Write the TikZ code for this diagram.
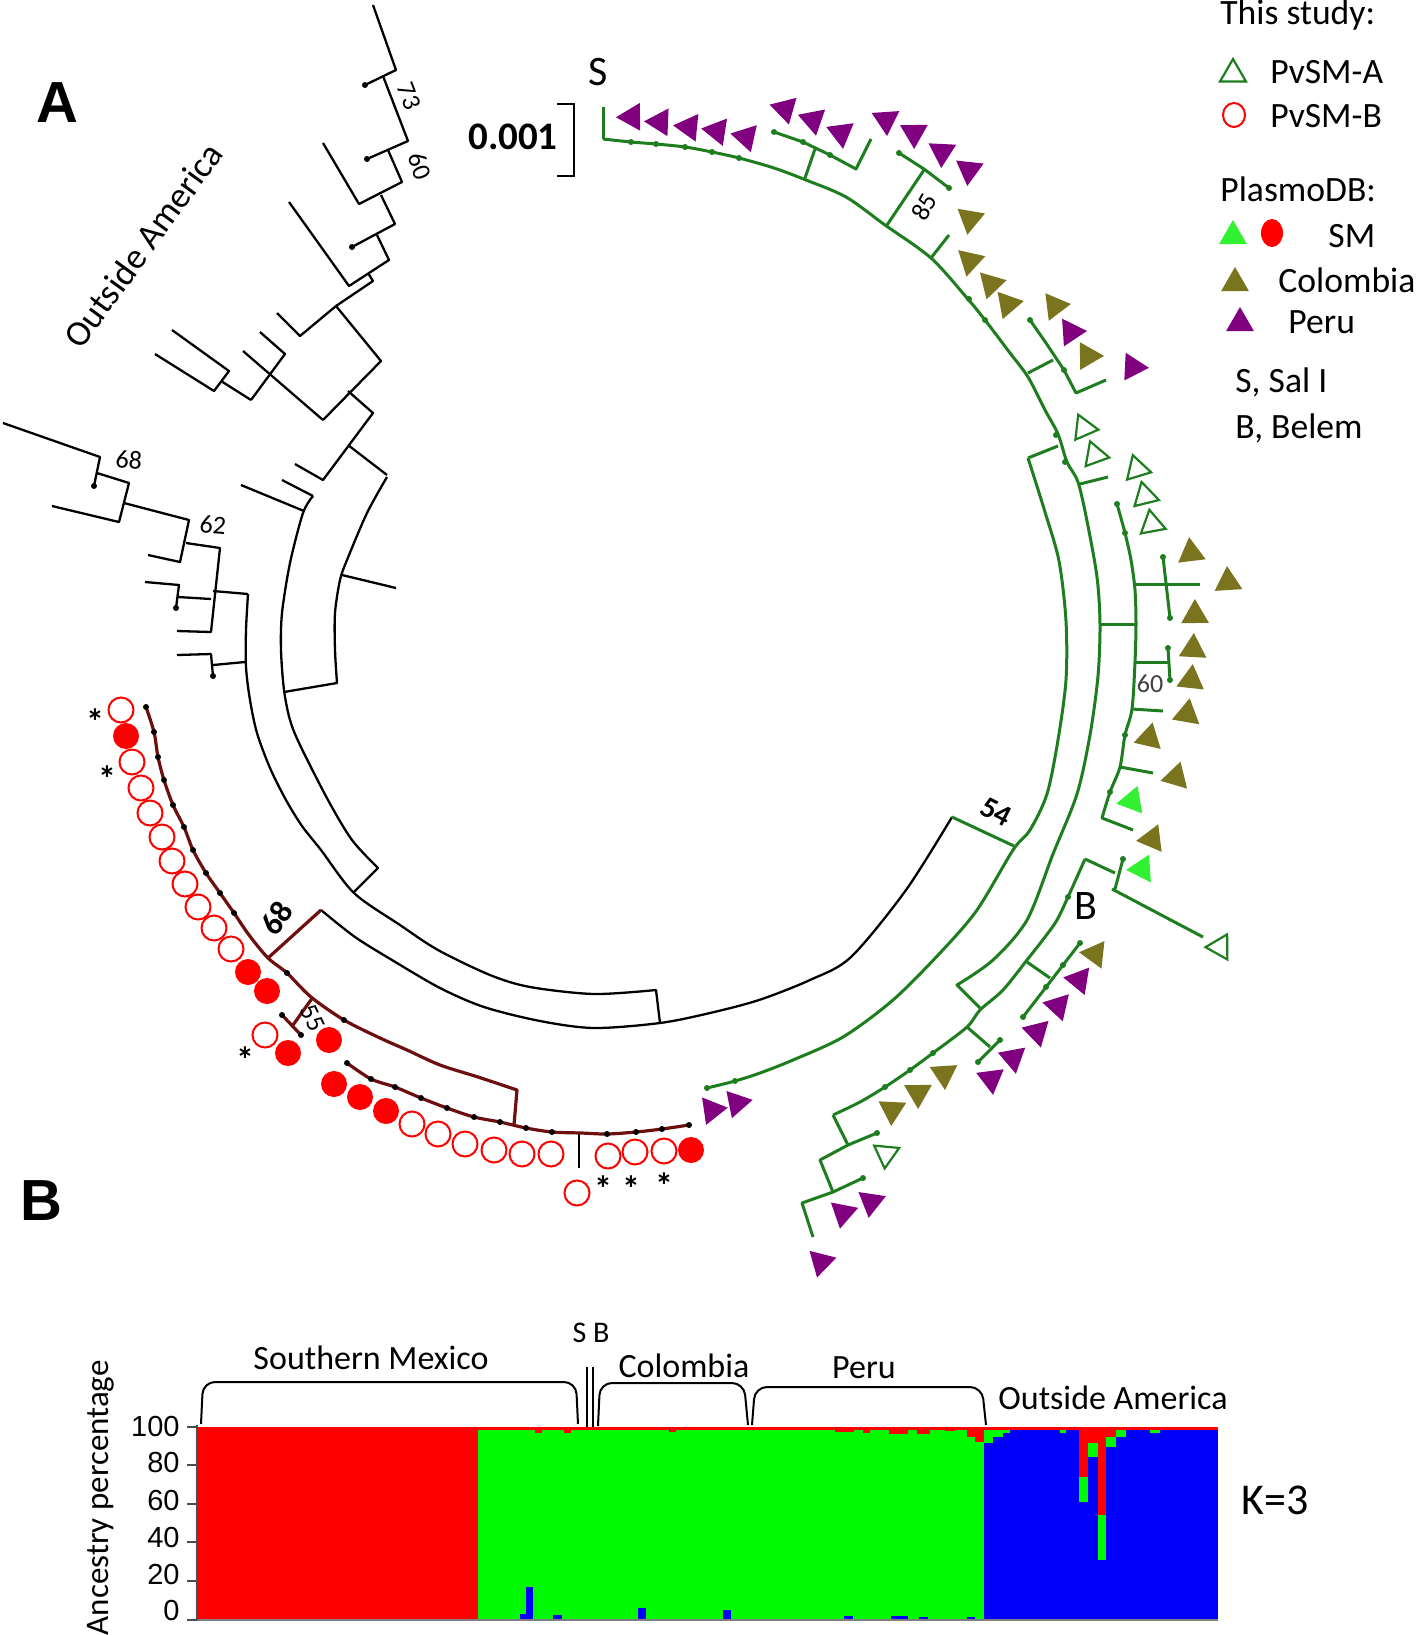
\documentclass[tikz,border=0pt]{standalone}
\usepackage{fontspec}
\setmainfont{Carlito}
\newfontfamily\arialf{Liberation Sans}
\usetikzlibrary{shapes.geometric}
\definecolor{tg}{RGB}{30,125,30}
\definecolor{mr}{RGB}{110,15,15}
\definecolor{pu}{RGB}{128,0,128}
\definecolor{ol}{RGB}{122,116,30}
\definecolor{lg}{RGB}{50,240,50}
\definecolor{bred}{RGB}{255,0,0}
\definecolor{bgreen}{RGB}{0,250,0}
\definecolor{bblue}{RGB}{0,0,250}
\tikzset{
 blk/.style={line width=1.15pt, black, line join=round},
 grn/.style={line width=1.5pt, tg, line join=round},
 mar/.style={line width=1.6pt, mr, line join=round},
 trishape/.style={regular polygon, regular polygon sides=3, minimum size=16pt, inner sep=0pt, outer sep=0pt},
 pur/.style={trishape, fill=pu},
 oli/.style={trishape, fill=ol},
 lgt/.style={trishape, fill=lg},
 opn/.style={trishape, draw=tg, line width=1.1pt, minimum size=14.5pt},
 leg/.style={font=\fontsize{17.8}{20}\selectfont, anchor=base west, inner sep=0pt},
 bs/.style={font=\fontsize{13}{14}\selectfont, inner sep=0pt},
 grp/.style={font=\fontsize{17}{19}\selectfont, inner sep=0pt},
 ax/.style={font=\arialf\fontsize{14.5}{15}\selectfont, anchor=east, inner sep=0pt},
 ast/.style={font=\bfseries\fontsize{18}{18}\selectfont, inner sep=0pt},
 rc/.style={red, line width=1pt},
}
\newcommand\mytri[4]{\pgfmathsetmacro\triang{atan2(620-(#3),(#2)-640)}\node[#4,rotate=\triang] (#1) at (#2,#3) {};}
\newcommand\dotsat[2]{\foreach \pp in {#2} {\fill[#1] \pp circle[radius=1.5pt];}}
\begin{document}
\begin{tikzpicture}[x=0.5pt,y=-0.5pt]
\useasboundingbox (0,0) rectangle (1417,1635);
\fill[white] (0,0) rectangle (1417,1635);

% ---------------- panel B bar chart ----------------
\fill[bred] (198,1427) rectangle (478,1620);
\fill[bgreen] (478,1427) rectangle (984,1620);
\fill[bblue] (984,1427) rectangle (1218,1620);
\fill[bred] (478,1427) rectangle (1218,1430);
\foreach \a/\b/\c in {535/542/1433,564/571/1433,669/676/1432,835/854/1432,863/870/1433,889/908/1434,917/930/1434,945/955/1431,967/975/1437,975/984/1442}
  \fill[bred] (\a,1427) rectangle (\b,\c);
\fill[bgreen] (984,1430) rectangle (993,1443);
\fill[bgreen] (993,1430) rectangle (1003,1437);
\fill[bgreen] (1003,1430) rectangle (1010,1433);
\fill[bgreen] (1060,1430) rectangle (1066,1433);
\fill[bred] (1079,1427) rectangle (1088,1477);
\fill[bgreen] (1079,1477) rectangle (1088,1502);
\fill[bred] (1088,1427) rectangle (1098,1443);
\fill[bgreen] (1088,1443) rectangle (1098,1457);
\fill[bred] (1098,1427) rectangle (1106,1515);
\fill[bgreen] (1098,1515) rectangle (1106,1560);
\fill[bred] (1106,1427) rectangle (1116,1437);
\fill[bgreen] (1106,1437) rectangle (1116,1447);
\fill[bgreen] (1116,1430) rectangle (1126,1437);
\fill[bgreen] (1150,1430) rectangle (1160,1433);
\foreach \a/\b/\c in {526/533/1587,520/526/1614,553/562/1615,638/646/1608,723/731/1610,844/853/1616,891/908/1616,919/928/1617,967/975/1617}
  \fill[bblue] (\a,\c) rectangle (\b,1620);
\draw[gray, line width=0.8pt] (190,1620) -- (1218,1620);
\draw[black!70, line width=0.8pt] (197,1425) -- (197,1620);
\foreach \yy in {1427,1465,1504,1542,1581,1620} \draw[black!70, line width=0.8pt] (187,\yy) -- (197,\yy);
\node[ax] (y100) at (180,1426) {100};
\node[ax] (y80) at (180,1462) {80};
\node[ax] (y60) at (180,1500) {60};
\node[ax] (y40) at (180,1537) {40};
\node[ax] (y20) at (180,1574) {20};
\node[ax] (y0) at (180,1610) {0};
\node[font=\fontsize{16.5}{17}\selectfont, rotate=90, anchor=east, inner sep=0pt] (ancy) at (101,1360) {Ancestry percentage};
\draw[line width=1pt, rounded corners=6pt] (201,1424) -- (203,1382) -- (576,1382) -- (578,1424);
\draw[line width=1pt] (587,1367) -- (587,1427);
\draw[line width=1pt] (593,1367) -- (593,1427);
\draw[line width=1pt, rounded corners=6pt] (598,1426) -- (600,1383) -- (744,1383) -- (748,1425);
\draw[line width=1pt, rounded corners=6pt] (752,1425) -- (755,1387) -- (982,1387) -- (986,1425);
\node[grp] (gsm) at (371,1358) {Southern Mexico};
\node[font=\fontsize{15}{16}\selectfont, inner sep=0pt] (gsb) at (591,1333) {S B};
\node[grp] (gcol) at (684,1366) {Colombia};
\node[grp] (gper) at (864,1368) {Peru};
\node[grp] (goa) at (1113,1398) {Outside America};
\node[font=\fontsize{22}{24}\selectfont, inner sep=0pt] (k3) at (1275,1500) {K=3};

% ---------------- labels ----------------
\node[font=\arialf\bfseries\fontsize{29}{30}\selectfont, inner sep=0pt] (lblA) at (57,103) {A};
\node[font=\arialf\bfseries\fontsize{29}{30}\selectfont, inner sep=0pt] (lblB) at (41,1201) {B};
\node[font=\fontsize{18}{20}\selectfont, rotate=54, inner sep=0pt] (outam) at (143,245) {Outside America};
\node[font=\bfseries\fontsize{19.5}{22}\selectfont, inner sep=0pt] (scl) at (513,137) {0.001};
\draw[line width=1pt] (557,104) -- (574,104) -- (574,176) -- (557,176);
\node[font=\fontsize{21}{22}\selectfont, inner sep=0pt] (labS) at (598,72) {S};
\node[font=\fontsize{21}{22}\selectfont, inner sep=0pt] (labB) at (1086,906) {B};

% ---------------- legend ----------------
\node[leg] (l1) at (1220,24) {This study:};
\node[opn, minimum size=15pt] (lopen) at (1233,74) {};
\node[leg] (l2) at (1270,83) {PvSM-A};
\draw[rc] (1234,115) ellipse[x radius=11, y radius=12];
\node[leg] (l3) at (1270,127) {PvSM-B};
\node[leg] (l4) at (1220,201) {PlasmoDB:};
\node[lgt] (llg) at (1233,236) {};
\fill[red] (1272,233) ellipse[x radius=11, y radius=14];
\node[leg] (l5) at (1328,247) {SM};
\node[oli] (lol) at (1235,283) {};
\node[leg] (l6) at (1278,292) {Colombia};
\node[pur] (lpu) at (1240,323) {};
\node[leg] (l7) at (1288,333) {Peru};
\node[leg] (l8) at (1235,392) {S, Sal I};
\node[leg] (l9) at (1235,438) {B, Belem};

% ---------------- black tree ----------------
\draw[blk] (373,5)--(396,70)--(365,85);
\draw[blk] (383,76)--(408,141)--(367,159);
\draw[blk] (388,150)--(402,182)--(359,204)--(323,143);
\draw[blk] (381,195)--(395,224)--(352,247);
\draw[blk] (377,235)--(389,260)--(349,286)--(289,202);
\draw[blk] (368,273)--(373,281)--(336,306);
\draw[blk] (277,313)--(300,336)--(336,306)--(381,361)--(323,420);
\draw[blk] (243,351)--(323,420);
\draw[blk] (260,332)--(285,354)--(251,400);
\draw[blk] (155,354)--(214,391)--(229,371)--(172,330);
\draw[blk] (221,381)--(251,400);
\draw[blk] (348,391)--(373,413)--(323,480)--(295,464);
\draw[blk] (348,445)--(387,475);
\dotsat{black}{(365,85),(367,159),(352,247)}
\draw[blk] (3,423)--(100,457)--(94,486);
\draw[blk] (97,473)--(129,483)--(119,522)--(52,506);
\draw[blk] (124,503)--(189,520)--(180,562)--(148,555);
\draw[blk] (186,543)--(220,548)--(211,632)--(177,631);
\draw[blk] (145,582)--(179,585)--(176,608);
\draw[blk] (178,597)--(211,599);
\draw[blk] (213,591)--(248,594);
\draw[blk] (177,655)--(211,654)--(213,676);
\draw[blk] (213,665)--(245,662);
\dotsat{black}{(94,486),(176,608),(213,676)}
\node[bs, rotate=-69] (b73) at (409,96) {73};
\node[bs, rotate=-69] (b60a) at (420,166) {60};
\node[bs, rotate=-5] (b68a) at (129,460) {68};
\node[bs, rotate=-5] (b62) at (213,525) {62};
% arcs
\draw[blk] plot[smooth] coordinates {(248,594)(246,630)(246,667)(250,700)(257,733)(270,768)(286,800)(302,826)(321,850)(354,893)(400,925)(438,950)(490,975)(530,987)(594,994)(656,990)} -- (660,1023);
\draw[blk] (282,480)--(313,496);
\draw[blk] (241,485)--(304,511);
\draw[blk] plot[smooth] coordinates {(313,496)(303,513)(290,563)(282,613)(281,650)(284,690)(290,720)(300,745)(328,800)(352,840)(378,868)} -- (354,892);
\draw[blk] plot[smooth] coordinates {(387,477)(367,513)(347,560)(340,580)(335,613)(335,650)(337,683)} -- (284,692);
\draw[blk] (342,575)--(396,588);
\draw[blk] plot[smooth] coordinates {(321,910)(355,937)(392,960)(440,988)(484,1007)(540,1021)(594,1028)(660,1023)(710,1013)(759,1000)(810,980)(851,957)(906,890)(952,817)};
\draw[blk] (579,1133)--(579,1168);

% ---------------- red clade ----------------
\draw[mar] plot[smooth] coordinates {(146,707)(154,732)(158,757)(164,780)(173,805)(184,827)(193,850)(206,873)(220,893)(234,913)(249,935)(268,958)(287,973)(311,997)(344,1020)(380,1038)(407,1050)(440,1065)(478,1077)(517,1090)} -- (514,1125);
\draw[mar] plot[smooth] coordinates {(347,1063)(371,1079)(395,1087)(421,1098)(447,1108)(474,1117)(500,1122)(526,1128)(552,1132)(581,1133)(607,1134)(636,1132)(662,1129)(689,1125)};
\draw[mar] (268,958)--(321,910);
\draw[mar] (313,997)--(293,1025);
\draw[mar] (282,1015)--(301,1035);
\dotsat{black}{(146,707),(154,732),(158,757),(164,780),(173,805),(184,827),(193,850),(206,873),(220,893),(234,913),(287,973),(344,1020),(282,1015),(301,1035)}
\dotsat{black}{(347,1063),(371,1079),(395,1087),(421,1098),(447,1108),(474,1117),(500,1122),(526,1128),(552,1132),(607,1134),(636,1132),(662,1129),(689,1125)}
\node[font=\bfseries\fontsize{16}{17}\selectfont, rotate=55, inner sep=0pt] (b68b) at (277,918) {68};
\node[bs, rotate=-65] (b55) at (313,1018) {55};
\foreach \x/\y in {121/710,132/762,141/788,150/813,162/837,172/861,185/884,198/907,214/928,231/949,265/1035,412/1124,438/1134,465/1144,494/1150,522/1154,551/1154,577/1193,608/1156,635/1152,664/1151}
  \draw[rc] (\x,\y) circle[radius=12.5];
\foreach \x/\y in {126/736,248/972,267/991,288/1053,329/1040,334/1084,360/1097,386/1111,691/1150}
  \fill[red] (\x,\y) circle[radius=13];
\node[ast] (as1) at (95,722) {*};
\node[ast] (as2) at (107,779) {*};
\node[ast] (as3) at (245,1060) {*};
\node[ast] (as4) at (603,1189) {*};
\node[ast] (as5) at (631,1189) {*};
\node[ast] (as6) at (664,1186) {*};

% ---------------- green clade ----------------
\draw[grn] (952,817)--(1014,846);
\node[font=\bfseries\fontsize{15}{16}\selectfont, rotate=-27, inner sep=0pt] (b54) at (996,812) {54};
\draw[grn] (603,107)--(603,139);
\draw[grn] plot[smooth] coordinates {(603,139)(631,142)(656,144)(685,147)(712,152)(739,158)(774,168)(806,180)(846,197)(885,225)(931,258)(967,298)(985,320)(1010,353)(1028,377)(1045,410)(1058,434)(1067,462)(1078,482)(1087,521)(1097,577)(1100,624)(1098,676)(1090,735)(1077,794)(1053,854)(1027,920)(993,960)(957,985)} -- (980,1008);
\draw[grn] (774,132)--(803,142)--(830,155)--(856,169)--(871,139);
\draw[grn] (815,149)--(805,178);
\draw[grn] (899,153)--(924,169)--(949,188);
\draw[grn] (924,170)--(887,225);
\draw[grn] (949,235)--(931,258);
\draw[grn] (1030,320)--(1046,343)--(1064,370)--(1076,393)--(1106,380);
\draw[grn] (1028,373)--(1053,360);
\draw[grn] (1058,446)--(1028,458);
\draw[grn] (1080,484)--(1108,477);
\draw[grn] plot[smooth] coordinates {(1028,458)(1045,512)(1059,561)(1066,621)(1066,680)(1058,740)(1047,794)(1030,830)(1013,850)(977,910)(940,953)(893,1000)(843,1037)(793,1060)(760,1073)(735,1081)(707,1088)};
\draw[grn] plot[smooth] coordinates {(1117,504)(1125,533)(1131,560)(1135,590)(1136,624)(1135,662)(1132,709)(1125,735)(1120,767)(1110,792)(1102,818)} -- (1133,830);
\draw[grn] (1100,624)--(1136,624);
\draw[grn] (1135,584)--(1200,584);
\draw[grn] (1163,557)--(1170,618);
\draw[grn] (1135,662)--(1168,662);
\draw[grn] (1168,648)--(1170,680);
\draw[grn] (1132,709)--(1163,711);
\draw[grn] (1120,767)--(1153,773);
\draw[grn] plot[smooth] coordinates {(1085,859)(1068,897)(1057,920)(1045,937)(1027,960)(1003,990)(980,1010)(967,1027)(933,1053)(910,1070)(885,1087)(860,1102)(833,1115)};
\draw[grn] (1085,859)--(1115,873);
\draw[grn] (1123,859)--(1115,889);
\draw[grn] (1112,889)--(1203,937);
\draw[grn] (1027,962)--(1050,978);
\draw[grn] (1023,1017)--(1080,943);
\draw[grn] (967,1027)--(990,1047);
\draw[grn] (978,1062)--(1000,1040);
\draw[grn] (833,1115)--(848,1145)--(877,1133);
\draw[grn] (848,1145)--(820,1160)--(833,1192)--(863,1178);
\draw[grn] (833,1192)--(802,1203)--(813,1237);
\dotsat{tg}{(631,142),(656,144),(685,147),(712,152),(739,158),(969,299),(985,320),(1056,435),(1065,462),(774,132),(803,142),(830,155),(899,153),(949,188),(1030,320),(1064,370),(1117,504),(1125,533),(1163,557),(1170,618),(1168,648),(1170,680),(1125,735),(1110,792),(1123,859),(1068,897),(933,1053),(910,1070),(885,1087),(1080,943),(1063,965),(1046,987),(1023,1017),(978,1062),(1000,1040),(877,1133),(863,1178),(735,1081),(707,1088)}
\node[font=\fontsize{13}{14}\selectfont, text=black!75, inner sep=0pt] (b60b) at (1150,684) {60};
\node[bs, rotate=60] (b85) at (924,207) {85};

% ---------------- triangles ----------------
\mytri{p1}{632}{117}{pur}
\mytri{p2}{660}{122}{pur}
\mytri{p3}{689}{127}{pur}
\mytri{p4}{717}{131}{pur}
\mytri{p5}{746}{137}{pur}
\mytri{p6}{785}{109}{pur}
\mytri{p7}{813}{120}{pur}
\mytri{p8}{841}{133}{pur}
\mytri{p9}{886}{120}{pur}
\mytri{p10}{914}{133}{pur}
\mytri{p11}{942}{152}{pur}
\mytri{p12}{969}{170}{pur}
\mytri{p13}{1071}{332}{pur}
\mytri{p14}{1133}{367}{pur}
\mytri{p15}{1079}{980}{pur}
\mytri{p16}{1058}{1006}{pur}
\mytri{p17}{1037}{1032}{pur}
\mytri{p18}{1013}{1058}{pur}
\mytri{p19}{991}{1079}{pur}
\mytri{p20}{871}{1202}{pur}
\mytri{p21}{843}{1213}{pur}
\mytri{p22}{821}{1262}{pur}
\mytri{p23}{712}{1110}{pur}
\mytri{p24}{737}{1103}{pur}
\mytri{o1}{970}{219}{oli}
\mytri{o2}{970}{261}{oli}
\mytri{o3}{991}{284}{oli}
\mytri{o4}{1008}{304}{oli}
\mytri{o5}{1055}{306}{oli}
\mytri{o6}{1088}{356}{oli}
\mytri{o7}{1191}{553}{oli}
\mytri{o8}{1228}{582}{oli}
\mytri{o9}{1195}{615}{oli}
\mytri{o10}{1193}{649}{oli}
\mytri{o11}{1191}{680}{oli}
\mytri{o12}{1187}{714}{oli}
\mytri{o13}{1149}{738}{oli}
\mytri{o14}{1176}{777}{oli}
\mytri{o15}{1152}{839}{oli}
\mytri{o16}{1095}{954}{oli}
\mytri{o17}{944}{1074}{oli}
\mytri{o18}{918}{1093}{oli}
\mytri{o19}{892}{1110}{oli}
\mytri{g1}{1132}{801}{lgt}
\mytri{g2}{1142}{869}{lgt}
\mytri{w1}{1084}{428}{opn}
\mytri{w2}{1095}{455}{opn}
\mytri{w3}{1137}{469}{opn}
\mytri{w4}{1145}{496}{opn}
\mytri{w5}{1152}{524}{opn}
\mytri{w6}{1220}{947}{opn}
\mytri{w7}{886}{1154}{opn}
\end{tikzpicture}
\end{document}
